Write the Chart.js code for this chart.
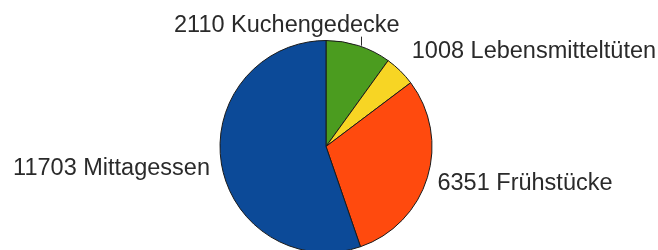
<!DOCTYPE html>
<html>
<head>
<meta charset="utf-8">
<script src="https://cdn.jsdelivr.net/npm/chart.js@4/dist/chart.umd.min.js"></script>
<style>
  html, body { margin: 0; padding: 0; background: #fff; overflow: hidden; }
  #wrap { width: 658px; height: 254px; position: relative; }
</style>
</head>
<body>
<div id="wrap"><canvas id="c" width="658" height="254"></canvas></div>
<script>
// ---- data ----
const categories = ["Kuchengedecke", "Lebensmitteltüten", "Frühstücke", "Mittagessen"];
const values = [2110, 1008, 6351, 11703];
const colors = ["#4b9c1f", "#f7d524", "#ff4a0e", "#0c4a98"];

// label placement relative to each slice's mid-angle (radius factor, pixel nudges, alignment)
const labelLayout = [
  { rf: 1.0, dx: 41, dy: -14, align: "right", leader: 9 },
  { rf: 1.25, dx: -7, dy: 6, align: "left", leader: 0 },
  { rf: 1.09, dx: 1, dy: 9.5, align: "left", leader: 0 },
  { rf: 1.11, dx: 0, dy: 9.5, align: "right", leader: 0 }
];

const labelPlugin = {
  id: "sliceLabels",
  afterDatasetsDraw(chart) {
    const ctx = chart.ctx;
    const meta = chart.getDatasetMeta(0);
    ctx.save();
    ctx.font = "23.5px 'Liberation Sans', Arial, sans-serif";
    ctx.fillStyle = "#2a2a2a";
    ctx.strokeStyle = "#2a2a2a";
    ctx.lineWidth = 1;
    ctx.textBaseline = "alphabetic";
    meta.data.forEach((arc, i) => {
      const p = arc.getProps(["x", "y", "startAngle", "endAngle", "outerRadius"], true);
      const mid = (p.startAngle + p.endAngle) / 2;
      const L = labelLayout[i];
      const r = p.outerRadius * L.rf;
      const ax = p.x + Math.cos(mid) * r;
      const ay = p.y + Math.sin(mid) * r;
      if (L.leader) {
        const lx = Math.round(ax + 2) + 0.5;
        ctx.beginPath();
        ctx.moveTo(lx, ay);
        ctx.lineTo(lx, ay - L.leader);
        ctx.stroke();
      }
      ctx.textAlign = L.align;
      ctx.fillText(values[i] + " " + categories[i], ax + L.dx, ay + L.dy);
    });
    ctx.restore();
  }
};

new Chart(document.getElementById("c"), {
  type: "pie",
  data: {
    labels: categories,
    datasets: [{
      data: values,
      backgroundColor: colors,
      borderColor: "#1a1a1a",
      borderWidth: 1
    }]
  },
  options: {
    responsive: false,
    animation: false,
    events: [],
    layout: { padding: { top: 40, bottom: 1, left: 0, right: 6 } },
    plugins: { legend: { display: false }, tooltip: { enabled: false } }
  },
  plugins: [labelPlugin]
});
</script>
</body>
</html>
